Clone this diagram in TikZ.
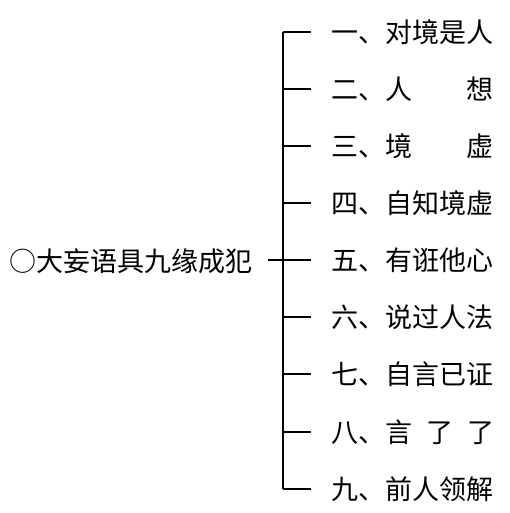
\documentclass[tikz,border=0pt]{standalone}
\usepackage{fontspec}
\newfontfamily\cjk{Noto Sans CJK SC}
\begin{document}
\begin{tikzpicture}[x=1pt,y=-1pt,
  lbl/.style={anchor=west,inner sep=0pt,font=\cjk\fontsize{27}{27}\selectfont},
  conn/.style={line width=1.8pt}]
\useasboundingbox (0,0) rectangle (510,513);
\node[lbl,anchor=east] (root) at (253,261) {○大妄语具九缘成犯};
\node[lbl] (r1) at (331,32) {一、对境是人};
\node[lbl] (r2) at (331,89) {二、人　　想};
\node[lbl] (r3) at (331,146) {三、境　　虚};
\node[lbl] (r4) at (331,203) {四、自知境虚};
\node[lbl] (r5) at (331,260) {五、有诳他心};
\node[lbl] (r6) at (331,317) {六、说过人法};
\node[lbl] (r7) at (331,374) {七、自言已证};
\node[lbl] (r8) at (331,432) {八、言\hspace{14pt}了\hspace{14pt}了};
\node[lbl] (r9) at (331,489) {九、前人领解};
\foreach \i in {1,...,9}{
  \coordinate (b\i) at (283,0 |- r\i.west);
  \coordinate (e\i) at (311,0 |- r\i.west);
}
\coordinate (start) at ([xshift=15pt]root.east |- b5);
\draw[conn] (b1) -- (b9);
\foreach \i in {1,...,9}{\draw[conn] (b\i) -- (e\i);}
\draw[conn] (start) -- (e5);
\end{tikzpicture}
\end{document}
